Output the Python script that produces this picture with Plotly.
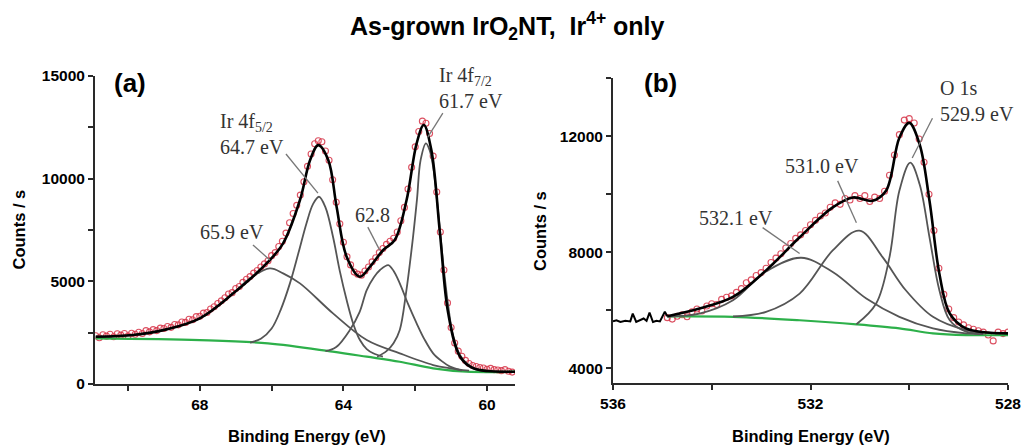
import plotly.graph_objects as go

# ---------------- Panel (a): Ir 4f ----------------
a_env_E = [70.9, 69.86, 68.93, 68.0, 67.07, 66.14, 65.68, 65.21, 64.93, 64.70, 64.42, 64.19,
           63.91, 63.54, 63.26, 62.89, 62.57, 62.24, 61.96, 61.76, 61.55, 61.31, 61.08,
           60.75, 60.38, 59.2]
a_env_C = [2300, 2385, 2660, 3200, 4415, 5875, 6850, 8960, 10900, 11635, 10900, 8630,
           6200, 5225, 5710, 6525, 7010, 8960, 11720, 12610, 11390, 7335, 3440,
           1330, 765, 600]

a_bg_E = [70.9, 68.0, 66.1, 64.3, 63.35, 62.43, 61.5, 60.57, 59.2]
a_bg_C = [2225, 2140, 1980, 1575, 1330, 1085, 765, 600, 600]

a_c659_E = [70.9, 69.86, 68.93, 68.0, 67.07, 66.6, 66.05, 65.68, 65.21, 64.29, 63.35, 62.43, 61.5, 61.03, 60.5]
a_c659_C = [2300, 2385, 2660, 3200, 4415, 5150, 5630, 5390, 4900, 3440, 2140, 1495, 925, 765, 650]

a_c647_E = [66.6, 66.3, 66.0, 65.75, 65.49, 65.25, 65.03, 64.85, 64.68, 64.5, 64.29, 64.1, 63.91, 63.72, 63.54, 63.35, 63.17, 62.9]
a_c647_C = [2020, 2200, 2700, 3600, 4900, 6400, 7820, 8750, 9120, 8600, 7170, 5500, 4090, 2900, 2140, 1700, 1495, 1330]

a_c628_E = [64.5, 64.2, 63.82, 63.55, 63.35, 63.15, 62.98, 62.75, 62.6, 62.43, 62.2, 61.96, 61.75, 61.5, 61.25, 61.03, 60.7]
a_c628_C = [1600, 1800, 2630, 3500, 4575, 5200, 5550, 5790, 5500, 4900, 3900, 2955, 2200, 1495, 1100, 845, 650]

a_c617_E = [63.06, 62.8, 62.6, 62.43, 62.25, 62.06, 61.95, 61.85, 61.7, 61.6, 61.5, 61.35, 61.22, 61.08, 60.94, 60.75, 60.57, 60.3, 60.0]
a_c617_C = [1330, 1600, 2000, 2630, 4500, 7170, 9000, 10900, 11720, 11400, 10580, 8200, 5875, 3800, 2300, 1400, 1010, 700, 620]

a_pts_E = [70.9, 70.8, 70.7, 70.6, 70.5, 70.4, 70.3, 70.2, 70.1, 70.0,
           69.9, 69.8, 69.7, 69.6, 69.5, 69.4, 69.3, 69.2, 69.1, 69.0,
           68.9, 68.8, 68.7, 68.6, 68.5, 68.4, 68.3, 68.2, 68.1, 68.0,
           67.9, 67.8, 67.7, 67.6, 67.5, 67.4, 67.3, 67.2, 67.1, 67.0,
           66.9, 66.8, 66.7, 66.6, 66.5, 66.4, 66.3, 66.2, 66.1, 66.0,
           65.9, 65.8, 65.7, 65.6, 65.5, 65.4, 65.3, 65.2, 65.1, 65.0,
           64.9, 64.8, 64.7, 64.6, 64.5, 64.4, 64.3, 64.2, 64.1, 64.0,
           63.9, 63.8, 63.7, 63.6, 63.5, 63.4, 63.3, 63.2, 63.1, 63.0,
           62.9, 62.8, 62.7, 62.6, 62.5, 62.4, 62.3, 62.2, 62.1, 62.0,
           61.9, 61.8, 61.7, 61.6, 61.5, 61.4, 61.3, 61.2, 61.1, 61.0,
           60.9, 60.8, 60.7, 60.6, 60.5, 60.4, 60.3, 60.2, 60.1, 60.0,
           59.9, 59.8, 59.7, 59.6, 59.5, 59.4, 59.3]
a_pts_C = [2350, 2250, 2400, 2330, 2420, 2300, 2450, 2380, 2460, 2340,
           2470, 2420, 2520, 2460, 2600, 2540, 2650, 2600, 2720, 2700,
           2800, 2760, 2900, 2880, 3020, 3000, 3150, 3130, 3280, 3300,
           3450, 3480, 3650, 3760, 3920, 4050, 4200, 4380, 4450, 4650,
           4750, 4950, 5100, 5230, 5400, 5530, 5700, 5850, 6000, 6250,
           6400, 6700, 6950, 7350, 7850, 8300, 8700, 9200, 9850, 10600,
           11200, 11700, 11850, 11800, 11350, 10900, 9950, 8850, 7800, 6900,
           6200, 5800, 5450, 5350, 5300, 5500, 5700, 5950, 6150, 6400,
           6600, 6800, 6950, 7100, 7400, 7950, 8600, 9500, 10550, 11550,
           12300, 12800, 12700, 12200, 11100, 9350, 7400, 5550, 3950, 2750,
           2000, 1600, 1350, 1150, 1000, 900, 850, 800, 780, 720,
           760, 700, 680, 650, 700, 620, 580]

# ---------------- Panel (b): O 1s ----------------
b_raw_E = [536.0, 535.93, 535.85, 535.75, 535.65, 535.6, 535.53, 535.45, 535.38, 535.32,
           535.26, 535.19, 535.12, 535.05, 534.95, 534.9]
b_raw_C = [5620, 5660, 5600, 5640, 5620, 5890, 5600, 5680, 5720, 5640,
           5920, 5600, 5640, 5620, 5950, 5800]

b_env_E = [534.9, 534.25, 533.57, 532.9, 532.22, 531.55, 531.14, 530.74, 530.47, 530.2,
           530.0, 529.79, 529.59, 529.39, 529.18, 528.85, 528.0]
b_env_C = [5800, 6065, 6463, 7377, 8518, 9545, 9887, 9774, 10116, 11942,
           12455, 11716, 9774, 7264, 5894, 5380, 5209]

b_bg_E = [534.9, 533.57, 532.22, 531.07, 530.2, 529.52, 528.85, 528.0]
b_bg_C = [5790, 5777, 5660, 5520, 5380, 5209, 5150, 5150]

b_c5321_E = [534.9, 534.25, 533.57, 532.9, 532.19, 531.55, 530.87, 530.2, 529.52, 528.85, 528.5]
b_c5321_C = [5790, 5890, 6349, 7340, 7812, 7320, 6407, 5777, 5380, 5209, 5180]

b_c5310_E = [533.57, 532.9, 532.22, 531.55, 531.01, 530.54, 530.07, 529.52, 528.85, 528.17]
b_c5310_C = [5790, 5950, 6578, 8062, 8747, 7833, 6692, 5777, 5323, 5209]

b_c5299_E = [531.07, 530.67, 530.4, 530.2, 529.98, 529.79, 529.59, 529.39, 529.18, 528.85, 528.5]
b_c5299_C = [5520, 6236, 7833, 10116, 11086, 10345, 8518, 6692, 5660, 5266, 5210]

b_pts_E = [534.9, 534.8, 534.7, 534.6, 534.5, 534.4, 534.3, 534.2, 534.1, 534.0,
           533.9, 533.8, 533.7, 533.6, 533.5, 533.4, 533.3, 533.2, 533.1, 533.0,
           532.9, 532.8, 532.7, 532.6, 532.5, 532.4, 532.3, 532.2, 532.1, 532.0,
           531.9, 531.8, 531.7, 531.6, 531.5, 531.4, 531.3, 531.2, 531.1, 531.0,
           530.9, 530.8, 530.7, 530.6, 530.5, 530.4, 530.3, 530.2, 530.1, 530.0,
           529.9, 529.8, 529.7, 529.6, 529.5, 529.4, 529.3, 529.2, 529.1, 529.0,
           528.9, 528.8, 528.7, 528.6, 528.5, 528.4, 528.3, 528.2, 528.1, 528.0]
b_pts_C = [5750, 5700, 5800, 5850, 5780, 5950, 6050, 5980, 6150, 6230,
           6200, 6380, 6450, 6500, 6620, 6750, 6950, 7050, 7200, 7300,
           7450, 7650, 7800, 7950, 8150, 8300, 8480, 8600, 8750, 8950,
           9100, 9250, 9350, 9550, 9700, 9650, 9850, 9800, 9950, 9850,
           9950, 9750, 9900, 9850, 10100, 10650, 11350, 12050, 12550, 12600,
           12450, 11900, 11100, 10000, 8750, 7450, 6550, 6050, 5750, 5600,
           5500, 5400, 5350, 5300, 5250, 5150, 4950, 5250, 5200, 5250]

# ---------------- Figure ----------------
RED = "rgba(214,50,70,0.85)"
GRAY = "#555555"
GREEN = "#2db04a"
SERIF = "Liberation Serif"
SANS = "Liberation Sans"

fig = go.Figure()

def add_panel(xa, ya, pts_E, pts_C, bg_E, bg_C, comps, env_E, env_C, raw=None):
    fig.add_trace(go.Scatter(x=pts_E, y=pts_C, mode="markers", xaxis=xa, yaxis=ya,
                             marker=dict(symbol="circle-open", size=6, color=RED,
                                         line=dict(width=1.1, color=RED)),
                             showlegend=False, hoverinfo="skip"))
    fig.add_trace(go.Scatter(x=bg_E, y=bg_C, mode="lines", xaxis=xa, yaxis=ya,
                             line=dict(color=GREEN, width=2.2, shape="spline"),
                             showlegend=False))
    for cE, cC in comps:
        fig.add_trace(go.Scatter(x=cE, y=cC, mode="lines", xaxis=xa, yaxis=ya,
                                 line=dict(color=GRAY, width=1.8, shape="spline", smoothing=1.0),
                                 showlegend=False))
    if raw is not None:
        fig.add_trace(go.Scatter(x=raw[0], y=raw[1], mode="lines", xaxis=xa, yaxis=ya,
                                 line=dict(color="black", width=2),
                                 showlegend=False))
    fig.add_trace(go.Scatter(x=env_E, y=env_C, mode="lines", xaxis=xa, yaxis=ya,
                             line=dict(color="black", width=2.6, shape="spline", smoothing=1.0),
                             showlegend=False))

add_panel("x", "y", a_pts_E, a_pts_C, a_bg_E, a_bg_C,
          [(a_c659_E, a_c659_C), (a_c647_E, a_c647_C), (a_c628_E, a_c628_C), (a_c617_E, a_c617_C)],
          a_env_E, a_env_C)
add_panel("x2", "y2", b_pts_E, b_pts_C, b_bg_E, b_bg_C,
          [(b_c5321_E, b_c5321_C), (b_c5310_E, b_c5310_C), (b_c5299_E, b_c5299_C)],
          b_env_E, b_env_C, raw=(b_raw_E, b_raw_C))

W, H = 1034, 447
tickfont = dict(family=SANS, size=15.5, color="black", weight="bold")
minor = dict(ticks="outside", ticklen=5, tickwidth=2, tickcolor="#2a2a2a")
axis_common = dict(showline=True, linecolor="#2a2a2a", linewidth=2, ticks="outside",
                   ticklen=5, tickwidth=2, tickcolor="#2a2a2a", showgrid=False,
                   zeroline=False, tickfont=tickfont, automargin=False, tickformat="d")

fig.update_layout(
    width=W, height=H,
    margin=dict(l=0, r=0, t=0, b=0),
    paper_bgcolor="white", plot_bgcolor="white",
    xaxis=dict(domain=[95 / W, 515 / W], range=[70.92, 59.22], dtick=4, tick0=0,
               minor=dict(dtick=2, **minor), anchor="y", **axis_common),
    yaxis=dict(domain=[(H - 384) / H, (H - 76) / H], range=[0, 15000], dtick=5000,
               minor=dict(dtick=2500, **minor), anchor="x", **axis_common),
    xaxis2=dict(domain=[613 / W, 1008 / W], range=[536, 528], dtick=4, tick0=0,
                minor=dict(dtick=2, **minor), anchor="y2", **axis_common),
    yaxis2=dict(domain=[(H - 383) / H, (H - 78) / H], range=[3500, 14000], dtick=4000, tick0=0,
                minor=dict(dtick=2000, **minor), anchor="x2", **axis_common),
)

ann = []
lab = dict(family=SERIF, size=20, color="#333333")
# panel a labels
ann.append(dict(x=67.5, y=12170, xref="x", yref="y", text="Ir 4f<sub>5/2</sub><br>64.7 eV",
                showarrow=False, xanchor="left", yanchor="middle", align="left", font=lab))
ann.append(dict(x=61.40, y=14435, xref="x", yref="y", text="Ir 4f<sub>7/2</sub><br>61.7 eV",
                showarrow=False, xanchor="left", yanchor="middle", align="left", font=lab))
ann.append(dict(x=68.06, y=7400, xref="x", yref="y", text="65.9 eV",
                showarrow=False, xanchor="left", yanchor="middle", font=lab))
ann.append(dict(x=63.74, y=8230, xref="x", yref="y", text="62.8",
                showarrow=False, xanchor="left", yanchor="middle", font=lab))
ann.append(dict(x=70.45, y=14650, xref="x", yref="y", text="<b>(a)</b>",
                showarrow=False, xanchor="left", yanchor="middle",
                font=dict(family=SANS, size=26, color="black")))
# panel b labels
ann.append(dict(x=529.42, y=13200, xref="x2", yref="y2", text="O 1s<br>529.9 eV",
                showarrow=False, xanchor="left", yanchor="middle", align="left", font=lab))
ann.append(dict(x=532.56, y=10973, xref="x2", yref="y2", text="531.0 eV",
                showarrow=False, xanchor="left", yanchor="middle", font=lab))
ann.append(dict(x=534.29, y=9192, xref="x2", yref="y2", text="532.1 eV",
                showarrow=False, xanchor="left", yanchor="middle", font=lab))
ann.append(dict(x=535.42, y=13815, xref="x2", yref="y2", text="<b>(b)</b>",
                showarrow=False, xanchor="left", yanchor="middle",
                font=dict(family=SANS, size=26, color="black")))
# axis titles and main title
axt = dict(family=SANS, size=16.5, color="black", weight="bold")
ann.append(dict(x=18.5 / W, y=(H - 230) / H, xref="paper", yref="paper", text="Counts / s",
                textangle=-90, showarrow=False, xanchor="center", yanchor="middle", font=axt))
ann.append(dict(x=540 / W, y=(H - 231) / H, xref="paper", yref="paper", text="Counts / s",
                textangle=-90, showarrow=False, xanchor="center", yanchor="middle", font=axt))
ann.append(dict(x=307 / W, y=(H - 436) / H, xref="paper", yref="paper", text="Binding Energy (eV)",
                showarrow=False, xanchor="center", yanchor="middle", font=axt))
ann.append(dict(x=811 / W, y=(H - 436) / H, xref="paper", yref="paper", text="Binding Energy (eV)",
                showarrow=False, xanchor="center", yanchor="middle", font=axt))
ann.append(dict(x=507 / W, y=(H - 26) / H, xref="paper", yref="paper",
                text="As-grown IrO<sub>2</sub>NT,  Ir<sup>4+</sup> only",
                showarrow=False, xanchor="center", yanchor="middle",
                font=dict(family=SANS, size=25, color="black", weight="bold")))
fig.update_layout(annotations=ann)

# leader lines
leaders = [
    ("x", "y", 65.60, 11200, 64.71, 9300),
    ("x", "y", 66.52, 6770, 66.05, 6040),
    ("x", "y", 63.32, 7640, 62.99, 6520),
    ("x", "y", 61.23, 13190, 61.65, 12025),
    ("x2", "y2", 529.53, 12616, 529.94, 11247),
    ("x2", "y2", 531.45, 10459, 531.07, 9020),
    ("x2", "y2", 532.97, 8849, 532.22, 7959),
]
for xr, yr, x0, y0, x1, y1 in leaders:
    fig.add_shape(type="line", xref=xr, yref=yr, x0=x0, y0=y0, x1=x1, y1=y1,
                  line=dict(color="#777777", width=1.3))

fig.write_html("out.html", config={"displayModeBar": False},
               post_script="document.body.style.margin='0';document.body.style.overflow='hidden';")
